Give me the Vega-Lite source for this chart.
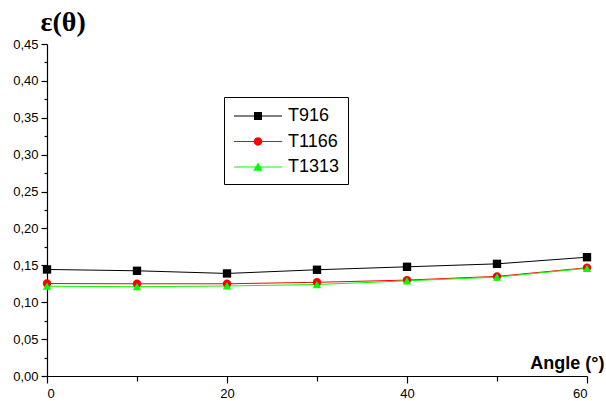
{
  "$schema": "https://vega.github.io/schema/vega-lite/v6.json",
  "width": 540,
  "height": 332,
  "autosize": {"type": "none"},
  "padding": {"left": 47, "top": 44, "right": 19, "bottom": 25},
  "background": "white",
  "config": {
    "view": {"stroke": null},
    "font": "Liberation Sans",
    "axis": {"domainColor": "black", "tickColor": "black", "labelColor": "black", "titleColor": "black", "grid": false, "domainWidth": 1.2, "tickWidth": 1.2, "labelFont": "Liberation Sans", "titleFont": "Liberation Sans"},
    "legend": {"labelFont": "Liberation Sans"}
  },
  "data": {
    "values": [
      {"series": "T916", "angle": 0, "eps": 0.1444},
      {"series": "T916", "angle": 10, "eps": 0.1426},
      {"series": "T916", "angle": 20, "eps": 0.1390},
      {"series": "T916", "angle": 30, "eps": 0.1440},
      {"series": "T916", "angle": 40, "eps": 0.1480},
      {"series": "T916", "angle": 50, "eps": 0.1520},
      {"series": "T916", "angle": 60, "eps": 0.1610},
      {"series": "T1166", "angle": 0, "eps": 0.1253},
      {"series": "T1166", "angle": 10, "eps": 0.1250},
      {"series": "T1166", "angle": 20, "eps": 0.1250},
      {"series": "T1166", "angle": 30, "eps": 0.1270},
      {"series": "T1166", "angle": 40, "eps": 0.1300},
      {"series": "T1166", "angle": 50, "eps": 0.1350},
      {"series": "T1166", "angle": 60, "eps": 0.1467},
      {"series": "T1313", "angle": 0, "eps": 0.1217},
      {"series": "T1313", "angle": 10, "eps": 0.1210},
      {"series": "T1313", "angle": 20, "eps": 0.1220},
      {"series": "T1313", "angle": 30, "eps": 0.1240},
      {"series": "T1313", "angle": 40, "eps": 0.1290},
      {"series": "T1313", "angle": 50, "eps": 0.1340},
      {"series": "T1313", "angle": 60, "eps": 0.1460}
    ]
  },
  "layer": [
    {
      "mark": {"type": "line", "strokeWidth": 1},
      "encoding": {
        "x": {"field": "angle", "type": "quantitative", "scale": {"domain": [0, 60], "nice": false},
          "axis": {"values": [0, 20, 40, 60], "tickSize": 7, "labelFontSize": 13, "labelPadding": 4, "title": "Angle (°)", "titleFontSize": 18, "titleFontWeight": "bold", "titleX": 557, "titleY": -8, "titleAlign": "right", "titleBaseline": "alphabetic", "orient": "bottom"}},
        "y": {"field": "eps", "type": "quantitative", "scale": {"domain": [0, 0.45], "nice": false},
          "axis": {"values": [0, 0.05, 0.1, 0.15, 0.2, 0.25, 0.3, 0.35, 0.4, 0.45], "tickSize": 6, "labelFontSize": 13, "labelPadding": 3, "labelExpr": "replace(format(datum.value, '.2f'), '.', ',')", "title": "ε(θ)", "titleAngle": 0, "titleX": -7, "titleY": -14, "titleAlign": "left", "titleBaseline": "alphabetic", "titleFont": "Liberation Serif", "titleFontSize": 28, "titleFontWeight": "bold", "orient": "left"}},
        "color": {"field": "series", "type": "nominal", "scale": {"domain": ["T916", "T1166", "T1313"], "range": ["#000000", "#ff0000", "#00ff00"]}, "legend": null}
      }
    },
    {
      "mark": {"type": "point", "filled": true, "opacity": 1, "size": 70},
      "encoding": {
        "x": {"field": "angle", "type": "quantitative", "axis": null},
        "y": {"field": "eps", "type": "quantitative", "axis": null},
        "color": {"field": "series", "type": "nominal", "scale": {"domain": ["T916", "T1166", "T1313"], "range": ["#000000", "#ff0000", "#00ff00"]}, "legend": null},
        "shape": {"field": "series", "type": "nominal", "scale": {"domain": ["T916", "T1166", "T1313"], "range": ["square", "circle", "triangle-up"]}, "legend": null}
      }
    },
    {
      "mark": {"type": "point", "filled": true, "size": 0, "strokeWidth": 0},
      "encoding": {
        "x": {"field": "angle", "type": "quantitative", "axis": null},
        "y": {"field": "eps", "type": "quantitative", "axis": null},
        "color": {"field": "series", "type": "nominal", "scale": {"domain": ["T916", "T1166", "T1313"], "range": ["#000000", "#ff0000", "#00ff00"]},
          "legend": {
            "title": null, "orient": "none", "legendX": 177, "legendY": 53,
            "strokeColor": "black", "fillColor": "white", "padding": 8,
            "symbolSize": 400, "symbolOffset": 15, "labelOffset": 19,
            "labelFontSize": 18, "labelColor": "black", "rowPadding": 5.5, "symbolOpacity": 1
          }},
        "shape": {"field": "series", "type": "nominal",
          "scale": {"domain": ["T916", "T1166", "T1313"], "range": [
            "M-2.4,-0.05H2.4V0.05H-2.4Z M-0.4,-0.4H0.4V0.4H-0.4Z",
            "M-2.4,-0.05H2.4V0.05H-2.4Z M0.42,0A0.42,0.42 0 1,1 -0.42,0A0.42,0.42 0 1,1 0.42,0Z",
            "M-2.4,-0.05H2.4V0.05H-2.4Z M0,-0.45L0.48,0.38H-0.48Z"]},
          "legend": {
            "title": null, "orient": "none", "legendX": 177, "legendY": 53,
            "strokeColor": "black", "fillColor": "white", "padding": 8,
            "symbolSize": 400, "symbolOffset": 15, "labelOffset": 19,
            "labelFontSize": 18, "labelColor": "black", "rowPadding": 5.5, "symbolOpacity": 1
          }}
      }
    },
    {
      "mark": {"type": "point", "opacity": 0},
      "encoding": {
        "x": {"field": "angle", "type": "quantitative", "axis": {"orient": "bottom", "values": [10, 30, 50], "tickSize": 5, "labels": false, "domain": false, "title": null}},
        "y": {"field": "eps", "type": "quantitative", "axis": {"orient": "left", "values": [0.025, 0.075, 0.125, 0.175, 0.225, 0.275, 0.325, 0.375, 0.425], "tickSize": 3, "labels": false, "domain": false, "title": null}}
      }
    }
  ],
  "resolve": {"axis": {"x": "independent", "y": "independent"}, "scale": {"shape": "independent"}, "legend": {"color": "independent", "shape": "independent"}}
}
